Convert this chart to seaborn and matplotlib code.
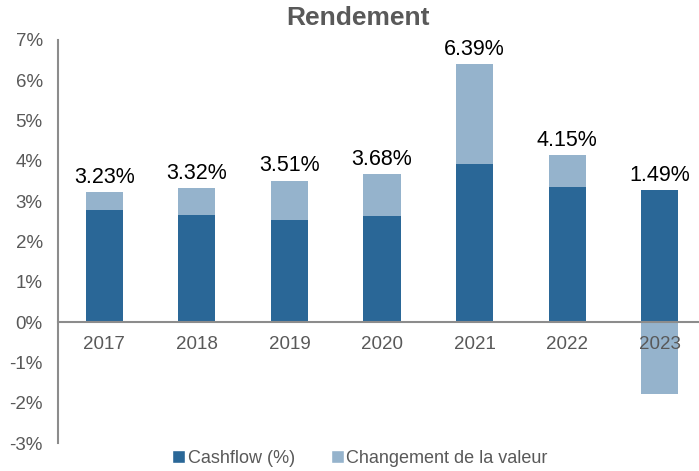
import matplotlib
matplotlib.use("Agg")
import matplotlib.pyplot as plt
import numpy as np
import pandas as pd
import seaborn as sns
from matplotlib.patches import Patch

# values (in %)
years = ["2017", "2018", "2019", "2020", "2021", "2022", "2023"]
cashflow = [2.79, 2.66, 2.53, 2.62, 3.92, 3.36, 3.27]
value_change = [0.44, 0.66, 0.98, 1.06, 2.47, 0.79, -1.78]
totals = ["3.23%", "3.32%", "3.51%", "3.68%", "6.39%", "4.15%", "1.49%"]
y_ticks = [-3, -2, -1, 0, 1, 2, 3, 4, 5, 6, 7]

DARK = "#2a6797"
LIGHT = "#95b3cc"
GREY = "#595959"
AXIS_GREY = "#8c8c8c"

sns.set_theme(style="white")
plt.rcParams["font.family"] = ["Liberation Sans", "DejaVu Sans"]

df = pd.DataFrame({"year": years, "cashflow": cashflow, "change": value_change})
# light layer: stacked on top of cashflow when positive, hanging from zero when negative
df["light_top"] = np.where(df["change"] > 0, df["cashflow"] + df["change"], df["change"])

fig = plt.figure(figsize=(6.99, 4.71), dpi=100)
ax = fig.add_axes([0.083, 0.0594, 0.927, 0.856])

sns.barplot(data=df, x="year", y="light_top", order=years, color=LIGHT,
            saturation=1, width=0.4, linewidth=0, ax=ax, zorder=1)
sns.barplot(data=df, x="year", y="cashflow", order=years, color=DARK,
            saturation=1, width=0.4, linewidth=0, ax=ax, zorder=1)

# total labels above the highest point of each bar
for i, lab in enumerate(totals):
    top = max(df["cashflow"][i], df["light_top"][i])
    ax.annotate(lab, (i, top), xytext=(0, 3), textcoords="offset points",
                ha="center", va="bottom", fontsize=15.5, color="black")

ax.set_xlim(-0.5, len(years) - 0.5)
ax.set_ylim(-3, 7)
ax.set_yticks(y_ticks)
ax.set_yticklabels([f"{v}%" for v in y_ticks])
ax.set_xlabel("")
ax.set_ylabel("")

for side in ["top", "right"]:
    ax.spines[side].set_visible(False)
ax.spines["bottom"].set_position(("data", 0))
for side in ["left", "bottom"]:
    ax.spines[side].set_color(AXIS_GREY)
    ax.spines[side].set_linewidth(1.5)
    ax.spines[side].set_zorder(5)

ax.tick_params(axis="y", length=0, pad=11, labelsize=13.5, labelcolor=GREY)
ax.tick_params(axis="x", length=0, pad=10, labelsize=13.5, labelcolor=GREY)
ax.xaxis.set_zorder(10)
ax.yaxis.set_zorder(10)

fig.text(0.512, 0.962, "Rendement", ha="center", va="center",
         fontsize=19, fontweight="bold", color=GREY)

handles = [Patch(facecolor=DARK, label="Cashflow (%)"),
           Patch(facecolor=LIGHT, label="Changement de la valeur")]
leg = fig.legend(handles=handles, loc="center", bbox_to_anchor=(0.515, 0.027),
                 ncol=2, frameon=False, fontsize=13, handlelength=0.7,
                 handleheight=0.7, handletextpad=0.15, columnspacing=2.0,
                 borderaxespad=0)
for t in leg.get_texts():
    t.set_color(GREY)

fig.savefig("out.png", dpi=100)
